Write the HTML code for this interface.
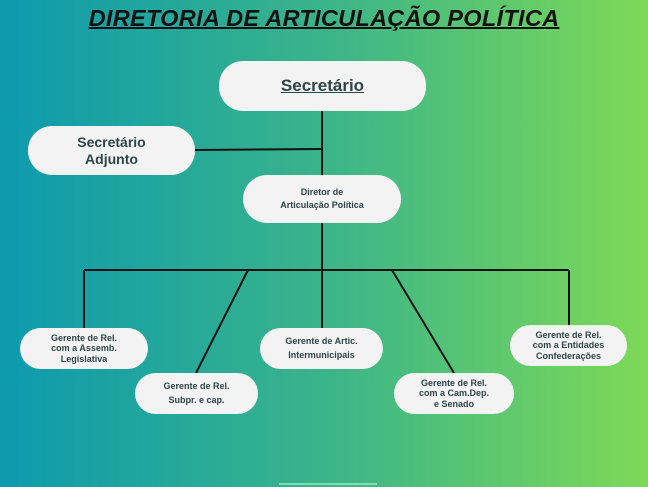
<!DOCTYPE html>
<html><head><meta charset="utf-8"><style>
html,body{margin:0;padding:0}
body{width:648px;height:487px;overflow:hidden;position:relative;background:linear-gradient(90deg,#0c9aae 0%,#3ab48a 50%,#7ed957 100%);font-family:"Liberation Sans",sans-serif}
.t{position:absolute;left:0;width:648px;top:5px;text-align:center;font-size:23.5px;font-weight:bold;font-style:italic;color:#111;text-decoration:underline;text-decoration-thickness:2px;letter-spacing:0.3px}
.b{position:absolute;background:#f3f3f3;border-radius:24px;display:flex;align-items:center;justify-content:center;text-align:center;color:#2d4547;font-weight:bold;line-height:1.15}
.s{font-size:9px;line-height:1.15}
svg{position:absolute;left:0;top:0}
</style></head><body>
<div class="t">DIRETORIA DE ARTICULAÇÃO POLÍTICA</div>
<svg width="648" height="487"><g stroke="#111" stroke-width="2" fill="none">
<line x1="322" y1="111" x2="322" y2="328"/>
<line x1="195" y1="150" x2="322" y2="149"/>
<line x1="84" y1="270" x2="569" y2="270"/>
<line x1="84" y1="270" x2="84" y2="328"/>
<line x1="569" y1="270" x2="569" y2="325"/>
<line x1="248" y1="270" x2="196" y2="373"/>
<line x1="392" y1="270" x2="454" y2="373"/>
</g>
<line x1="279" y1="484" x2="377" y2="484" stroke="#9be8c0" stroke-width="1.5"/>
</svg>
<div class="b" style="left:219px;top:61px;width:207px;height:50px;font-size:17px;text-decoration:underline">Secretário</div>
<div class="b" style="left:28px;top:126px;width:167px;height:49px;font-size:14px">Secretário<br>Adjunto</div>
<div class="b" style="left:243px;top:175px;width:158px;height:48px;font-size:9px;line-height:1.5">Diretor de<br>Articulação Política</div>
<div class="b s" style="left:20px;top:328px;width:128px;height:41px">Gerente de Rel.<br>com a Assemb.<br>Legislativa</div>
<div class="b s" style="left:135px;top:373px;width:123px;height:41px;line-height:1.5">Gerente de Rel.<br>Subpr. e cap.</div>
<div class="b s" style="left:260px;top:328px;width:123px;height:41px;line-height:1.5">Gerente de Artic.<br>Intermunicipais</div>
<div class="b s" style="left:394px;top:373px;width:120px;height:41px">Gerente de Rel.<br>com a Cam.Dep.<br>e Senado</div>
<div class="b s" style="left:510px;top:325px;width:117px;height:41px">Gerente de Rel.<br>com a Entidades<br>Confederações</div>
</body></html>
